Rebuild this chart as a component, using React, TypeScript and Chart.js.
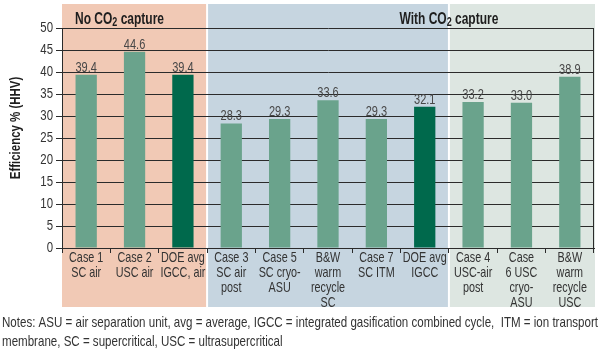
import { useEffect, useRef } from "react";
import { Chart, registerables } from "chart.js";

Chart.register(...registerables);

// ---------- data ----------
const categories: string[][] = [
  ["Case 1", "SC air"],
  ["Case 2", "USC air"],
  ["DOE avg", "IGCC, air"],
  ["Case 3", "SC air", "post"],
  ["Case 5", "SC cryo-", "ASU"],
  ["B&W", "warm", "recycle", "SC"],
  ["Case 7", "SC ITM"],
  ["DOE avg", "IGCC"],
  ["Case 4", "USC-air", "post"],
  ["Case", "6 USC", "cryo-", "ASU"],
  ["B&W", "warm", "recycle", "USC"],
];
const efficiency = [39.4, 44.6, 39.4, 28.3, 29.3, 33.6, 29.3, 32.1, 33.2, 33.0, 38.9];
const isDoeAverage = [false, false, true, false, false, false, false, true, false, false, false];

const yMin = 0;
const yMax = 50;
const yStep = 5;
const yTitle = "Efficiency % (HHV)";

// group bands: [first index, last index]
const bandRanges: number[][] = [
  [0, 2],
  [3, 7],
  [8, 10],
];
// header text pieces: [text, isSubscript]
const headerNoCapture: [string, boolean][] = [["No CO", false], ["2", true], [" capture", false]];
const headerWithCapture: [string, boolean][] = [["With CO", false], ["2", true], [" capture", false]];

const notes = [
  "Notes: ASU = air separation unit, avg = average, IGCC = integrated gasification combined cycle,  ITM = ion transport",
  "membrane, SC = supercritical, USC = ultrasupercritical",
];

// ---------- styles ----------
const FONT = "'Liberation Sans', Arial, sans-serif";
const bandColors = ["#f1c9b5", "#c6d5e0", "#dde6e1"];
const barLight = "#6aa38c";
const barDark = "#00694c";
const lineColor = "#2b2b2b";
const textColor = "#333333";

function narrowText(
  ctx: CanvasRenderingContext2D,
  text: string,
  x: number,
  y: number,
  font: string,
  align: CanvasTextAlign,
  sx: number
) {
  ctx.save();
  ctx.font = font;
  ctx.textAlign = align;
  ctx.translate(x, y);
  ctx.scale(sx, 1);
  ctx.fillText(text, 0, 0);
  ctx.restore();
}

function drawPieces(
  ctx: CanvasRenderingContext2D,
  pieces: [string, boolean][],
  x: number,
  y: number,
  align: "left" | "center",
  size: number,
  sx: number
) {
  const big = `bold ${size}px ${FONT}`;
  const small = `bold ${Math.round(size * 0.72)}px ${FONT}`;
  let total = 0;
  for (const [t, sub] of pieces) {
    ctx.font = sub ? small : big;
    total += ctx.measureText(t).width * sx;
  }
  let cx = align === "center" ? x - total / 2 : x;
  ctx.textBaseline = "alphabetic";
  for (const [t, sub] of pieces) {
    const f = sub ? small : big;
    narrowText(ctx, t, cx, sub ? y + 2 : y, f, "left", sx);
    ctx.font = f;
    cx += ctx.measureText(t).width * sx;
  }
}

const decorPlugin = {
  id: "decor",
  beforeDraw(chart: any) {
    const { ctx, chartArea } = chart;
    const xs = chart.scales.x;
    const px = (i: number) => xs.getPixelForValue(i);
    const top = 4;
    const bottom = 307;
    ctx.save();
    bandRanges.forEach(([a, b], k) => {
      const left = a === 0 ? chartArea.left : (px(a - 1) + px(a)) / 2 + 1;
      const right =
        b === categories.length - 1 ? chartArea.right + 1 : (px(b) + px(b + 1)) / 2 - 1;
      ctx.fillStyle = bandColors[k];
      ctx.fillRect(left, top, right - left, bottom - top);
    });
    ctx.restore();
  },
  afterDatasetsDraw(chart: any) {
    const { ctx, chartArea } = chart;
    const meta = chart.getDatasetMeta(0);
    ctx.save();
    ctx.fillStyle = "#474747";
    ctx.textBaseline = "alphabetic";
    meta.data.forEach((bar: any, i: number) => {
      narrowText(ctx, efficiency[i].toFixed(1), bar.x, bar.y - 3, `14.5px ${FONT}`, "center", 0.76);
    });
    // right border line
    ctx.strokeStyle = lineColor;
    ctx.lineWidth = 1;
    ctx.beginPath();
    ctx.moveTo(Math.round(chartArea.right) - 0.5, chartArea.top);
    ctx.lineTo(Math.round(chartArea.right) - 0.5, chartArea.bottom + 5);
    ctx.stroke();
    ctx.restore();
  },
  afterDraw(chart: any) {
    const { ctx, chartArea } = chart;
    const xs = chart.scales.x;
    const ys = chart.scales.y;
    const px = (i: number) => xs.getPixelForValue(i);
    ctx.save();
    ctx.fillStyle = textColor;
    ctx.textBaseline = "middle";
    // y tick labels
    ys.ticks.forEach((t: any) => {
      narrowText(ctx, String(t.value), ys.right - 9, ys.getPixelForValue(t.value), `15px ${FONT}`, "right", 0.76);
    });
    // category labels
    categories.forEach((lines, i) => {
      lines.forEach((ln, j) => {
        narrowText(ctx, ln, px(i), chartArea.bottom + 10 + j * 15, `15px ${FONT}`, "center", 0.72);
      });
    });
    // headers
    ctx.fillStyle = "#1e1e1e";
    drawPieces(ctx, headerNoCapture, chartArea.left + 13, 24, "left", 16, 0.75);
    const boundary = (px(7) + px(8)) / 2;
    drawPieces(ctx, headerWithCapture, boundary, 24, "center", 16, 0.75);
    // y title
    ctx.save();
    ctx.translate(16, 128);
    ctx.rotate(-Math.PI / 2);
    ctx.textBaseline = "middle";
    narrowText(ctx, yTitle, 0, 0, `bold 14.5px ${FONT}`, "center", 0.79);
    ctx.restore();
    // notes
    ctx.fillStyle = textColor;
    ctx.font = `14.5px ${FONT}`;
    const fit = 596 / ctx.measureText(notes[0]).width;
    ctx.textBaseline = "middle";
    notes.forEach((n, i) => narrowText(ctx, n, 2, 323 + i * 19, `14.5px ${FONT}`, "left", fit));
    ctx.restore();
  },
};

export default function App() {
  const ref = useRef<HTMLCanvasElement | null>(null);
  useEffect(() => {
    document.body.style.margin = "0";
    if (!ref.current) return;
    const chart = new Chart(ref.current, {
      type: "bar",
      data: {
        labels: categories,
        datasets: [
          {
            data: efficiency,
            backgroundColor: isDoeAverage.map((d) => (d ? barDark : barLight)),
            barPercentage: 0.44,
            categoryPercentage: 1,
          },
        ],
      },
      options: {
        responsive: false,
        animation: false,
        devicePixelRatio: 1,
        layout: { padding: { top: 28, right: 6, left: 0, bottom: 0 } },
        plugins: {
          legend: { display: false },
          tooltip: { enabled: false },
        },
        scales: {
          x: {
            afterFit: (s: any) => {
              s.height = 106;
            },
            grid: {
              offset: true,
              drawOnChartArea: false,
              drawTicks: true,
              tickLength: 5,
              color: lineColor,
            },
            border: { display: true, color: lineColor },
            ticks: { display: false, autoSkip: false },
          },
          y: {
            min: yMin,
            max: yMax,
            afterFit: (s: any) => {
              s.width = 62;
            },
            grid: { color: lineColor, tickLength: 6 },
            border: { display: true, color: lineColor },
            ticks: { display: false, stepSize: yStep },
          },
        },
      },
      plugins: [decorPlugin],
    });
    return () => chart.destroy();
  }, []);
  return (
    <div style={{ width: 600, height: 354 }}>
      <canvas ref={ref} width={600} height={354} style={{ width: 600, height: 354 }} />
    </div>
  );
}
